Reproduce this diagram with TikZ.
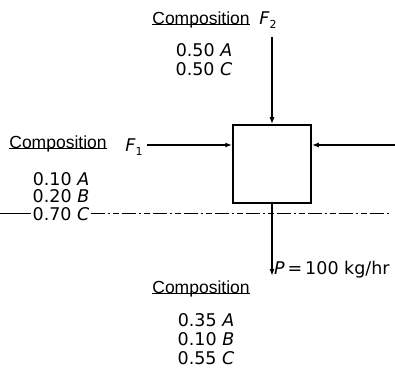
\documentclass[tikz,border=0pt]{standalone}
\usepackage{fontspec}
\setmainfont{DejaVu Sans}
\newfontfamily\compfont{Liberation Sans}
\usetikzlibrary{arrows.meta}
\newcommand{\comptxt}{{\compfont\fontsize{17.5}{19}\selectfont Composition}}
\begin{document}
\begin{tikzpicture}[x=1pt,y=-1pt,
  lbl/.style={inner sep=0pt,font=\fontsize{17.5}{19}\selectfont},
  flow/.style={line width=1.8pt,-{Latex[length=7pt,width=5pt]}},
  unit/.style={draw,line width=1.5pt,minimum width=78pt,minimum height=78pt,inner sep=0pt},
  uline/.style={line width=0.8pt},
  bound/.style={line width=0.6pt,dash pattern=on 14pt off 3pt on 2pt off 3pt on 6pt off 3pt}]
\useasboundingbox (0,0) rectangle (395,371);
\node[unit] (box) at (272,164) {};
% top stream
\node[lbl] (comp2) at (201,20) {\comptxt};
\draw[uline] (comp2.south west) ++(0,4pt) coordinate (u2a) (u2a) -- (u2a -| comp2.south east);
\node[lbl] (f2) at (268,20) {\textit{F}\raisebox{-4pt}{\fontsize{11}{12}\selectfont 2}};
\node[lbl] (c2a) at (204,50) {0.50 \textit{A}};
\node[lbl] (c2b) at (204,69) {0.50 \textit{C}};
\coordinate (t0) at (272,37);
\draw[flow] (t0) -- (box.north);
% left stream
\node[lbl] (comp1) at (58,144) {\comptxt};
\draw[uline] (comp1.south west) ++(0,4pt) coordinate (u1a) (u1a) -- (u1a -| comp1.south east);
\node[lbl] (f1) at (134,147) {\textit{F}\raisebox{-4pt}{\fontsize{11}{12}\selectfont 1}};
\node[lbl] (c1a) at (61,179) {0.10 \textit{A}};
\node[lbl] (c1b) at (61,196) {0.20 \textit{B}};
\node[lbl,fill=white,inner xsep=1pt] (c1c) at (61,214) {0.70 \textit{C}};
\coordinate (l0) at (147,145);
\draw[flow] (l0) -- (box.west |- l0);
% right stream
\coordinate (r0) at (395,145);
\draw[flow] (r0) -- (box.east |- r0);
% product
\coordinate (p0) at (272,276);
\draw[flow] (box.south) -- (p0);
\node[lbl,anchor=west] (pl) at (274,270) {\textit{P}\,=\,100 kg/hr};
\node[lbl] (comp3) at (201,289) {\comptxt};
\draw[uline] (comp3.south west) ++(0,4pt) coordinate (u3a) (u3a) -- (u3a -| comp3.south east);
\node[lbl] (c3a) at (206,320) {0.35 \textit{A}};
\node[lbl] (c3b) at (206,339) {0.10 \textit{B}};
\node[lbl] (c3c) at (206,358) {0.55 \textit{C}};
% system boundary line
\coordinate (b0) at (0,213);
\coordinate (b1) at (390,213);
\draw[line width=0.7pt] (b0) -- (c1c.west |- b0);
\draw[bound] (c1c.east |- b0) -- (b1);
\end{tikzpicture}
\end{document}
